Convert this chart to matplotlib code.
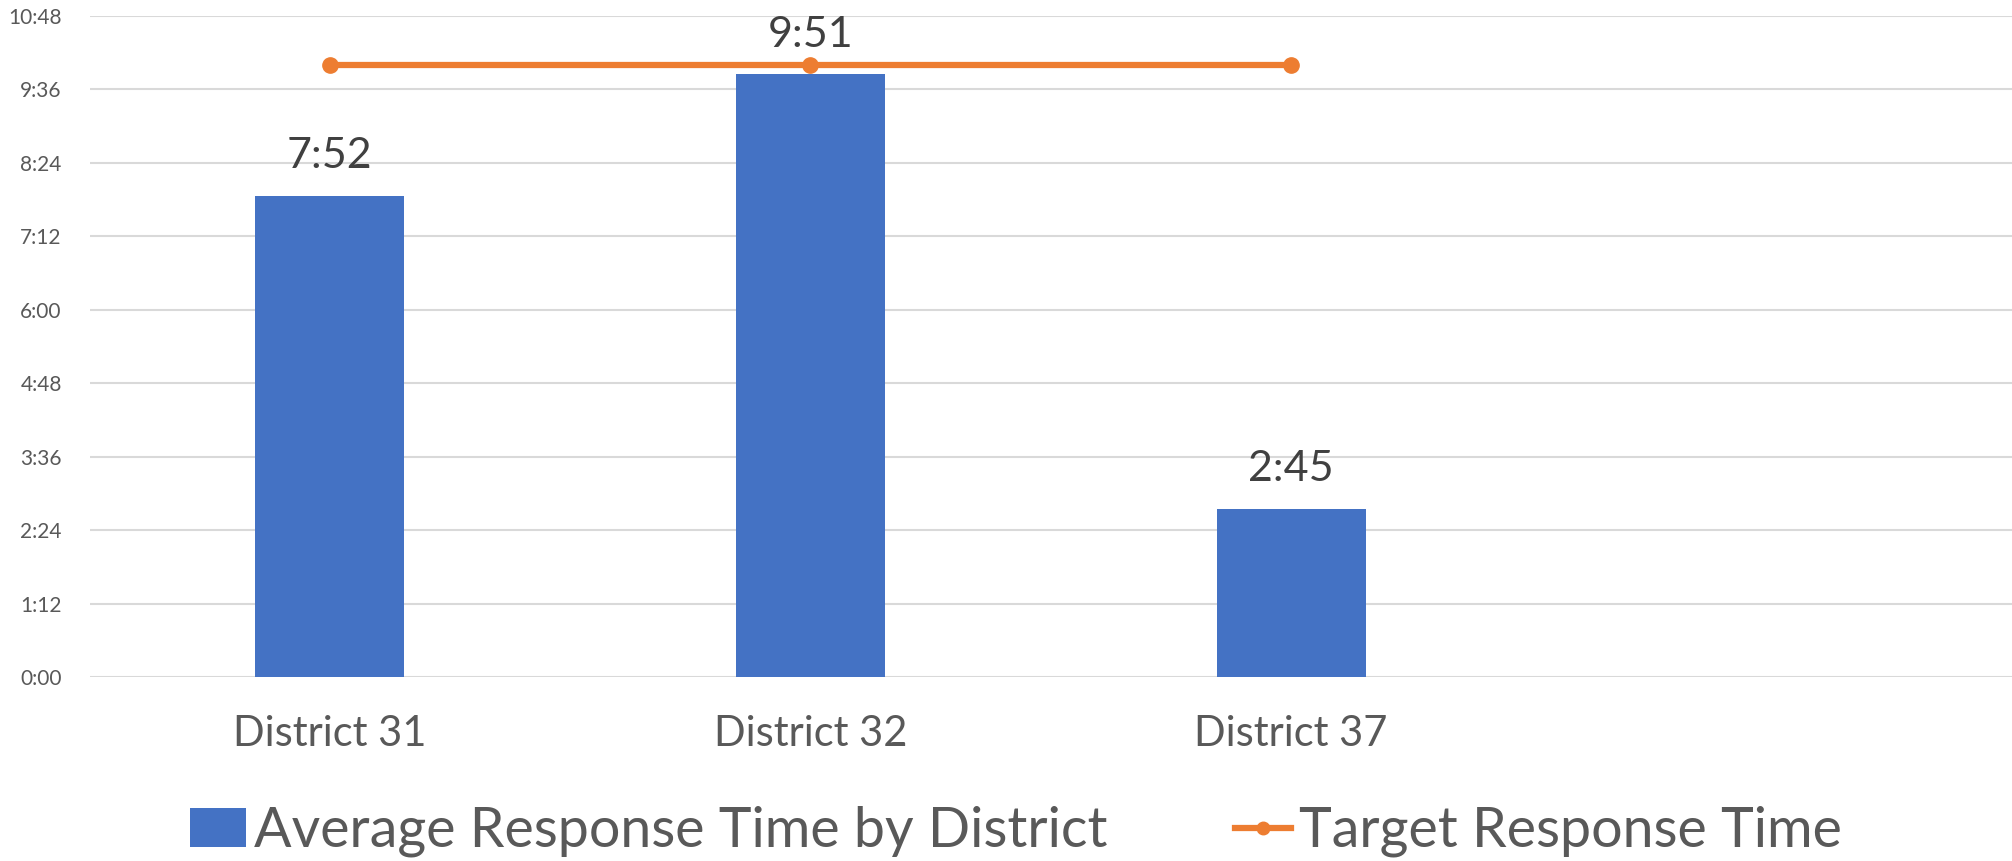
import matplotlib
matplotlib.use("Agg")
import matplotlib.pyplot as plt
from matplotlib.ticker import FuncFormatter, MultipleLocator
from matplotlib.lines import Line2D
from matplotlib.patches import Patch

# Response times in seconds
districts = ["District 31", "District 32", "District 37", ""]
avg_response = [472, 591, 165]          # 7:52, 9:51, 2:45
target_response = [600, 600, 600]       # 10:00

BAR_COLOR = "#4472C4"
LINE_COLOR = "#ED7D31"
GRID_COLOR = "#D9D9D9"
TEXT_COLOR = "#595959"
LABEL_COLOR = "#404040"

plt.rcParams["font.family"] = ["Lato", "DejaVu Sans"]

def mmss(v, _pos=None):
    v = int(round(v))
    return f"{v // 60}:{v % 60:02d}"

fig = plt.figure(figsize=(20.12, 8.61), dpi=100)
ax = fig.add_axes([0.0445, 0.2137, 0.9555, 0.7677])

x = list(range(len(districts)))
ax.bar(x[:len(avg_response)], avg_response, width=0.31, color=BAR_COLOR, zorder=2)
ax.plot(x[:len(target_response)], target_response, color=LINE_COLOR, lw=4.5,
        marker="o", ms=11, zorder=3, solid_capstyle="round")

for xi, v in zip(x, avg_response):
    ax.text(xi, v + 20, mmss(v), ha="center", va="bottom", fontsize=31,
            color=LABEL_COLOR)

ax.set_xlim(-0.5, len(districts) - 0.5)
ax.set_ylim(0, 648)
ax.yaxis.set_major_locator(MultipleLocator(72))
ax.yaxis.set_major_formatter(FuncFormatter(mmss))
ax.grid(axis="y", color=GRID_COLOR, lw=1.5, zorder=0)
ax.set_axisbelow(True)
for s in ax.spines.values():
    s.set_visible(False)
ax.tick_params(axis="y", length=0, labelsize=15, labelcolor=TEXT_COLOR, pad=20)
ax.set_xticks(x)
ax.set_xticklabels(districts)
ax.tick_params(axis="x", length=0, labelsize=30, labelcolor=TEXT_COLOR, pad=27)

handles = [Patch(facecolor=BAR_COLOR, edgecolor="none"),
           Line2D([0], [0], color=LINE_COLOR, lw=4.5, marker="o", ms=9)]
labels = ["Average Response Time by District", "Target Response Time"]
leg = fig.legend(handles, labels, loc="center", bbox_to_anchor=(0.505, 0.034),
                 ncol=2, frameon=False, fontsize=40, labelcolor=TEXT_COLOR,
                 handlelength=1.0, handleheight=0.7, handletextpad=0.15,
                 columnspacing=2.3)

fig.savefig("out.png", dpi=100, facecolor="white")
